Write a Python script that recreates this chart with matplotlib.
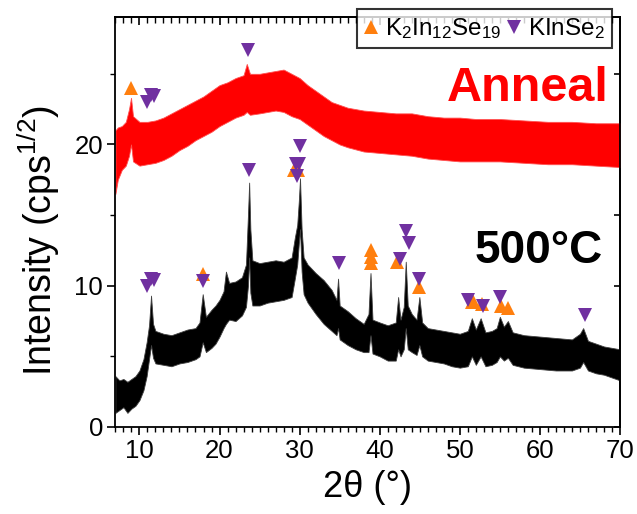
import matplotlib
matplotlib.use("Agg")
import matplotlib.pyplot as plt
from matplotlib.lines import Line2D
from matplotlib.ticker import MultipleLocator

plt.rcParams['font.family'] = ['Liberation Sans', 'DejaVu Sans']
plt.rcParams['mathtext.fontset'] = 'custom'
plt.rcParams['mathtext.rm'] = 'Liberation Sans'
plt.rcParams['mathtext.it'] = 'Liberation Sans:italic'
plt.rcParams['mathtext.default'] = 'regular'

# ---- 500 °C pattern: lower / upper envelope of the noisy trace ----
t500 = [7.0, 7.5, 8.0, 8.5, 9.0, 9.5, 10.0, 10.5, 10.9, 11.2, 11.45, 11.7, 12.0, 13.0,
        14.0, 15.0, 16.0, 17.0, 17.5, 17.9, 18.3, 19.0, 19.5, 20.0, 20.5, 20.8, 21.2,
        22.0, 22.8, 23.3, 23.55, 23.7, 23.85, 24.1, 25.0, 26.0, 27.0, 28.0, 29.0, 29.4,
        29.7, 29.9, 30.05, 30.25, 30.5, 31.0, 32.0, 33.0, 34.0, 34.6, 34.8, 35.0, 36.0,
        37.0, 38.0, 38.6, 38.85, 39.1, 40.0, 41.0, 42.0, 42.3, 42.6, 43.0, 43.25, 43.5,
        44.0, 44.6, 44.95, 45.3, 46.0, 47.0, 48.0, 49.0, 50.0, 51.0, 51.5, 52.0, 52.6,
        53.2, 54.0, 54.6, 55.0, 55.5, 56.0, 56.6, 58.0, 60.0, 62.0, 64.0, 65.0, 65.4,
        66.0, 67.0, 68.0, 69.0, 70.0]
lo500 = [1.0, 1.2, 1.4, 1.0, 1.3, 1.5, 1.9, 2.6, 3.6, 4.8, 5.8, 4.9, 4.5, 4.4,
         4.3, 4.5, 4.6, 4.8, 5.0, 6.0, 5.3, 5.6, 5.9, 6.4, 7.0, 7.3, 7.6,
         7.5, 7.9, 8.5, 10.0, 12.0, 9.5, 8.6, 8.6, 8.8, 8.9, 9.0, 9.2, 10.5,
         11.5, 13.0, 14.0, 11.0, 9.4, 8.8, 8.0, 7.3, 6.8, 6.5, 7.0, 6.2, 5.8,
         5.5, 5.3, 5.3, 6.5, 5.2, 5.0, 4.7, 4.7, 5.5, 5.0, 5.5, 7.0, 5.5,
         5.3, 5.1, 5.8, 5.0, 4.7, 4.6, 4.5, 4.3, 4.2, 4.3, 5.0, 4.4, 5.0,
         4.3, 4.4, 4.6, 5.0, 4.7, 4.9, 4.4, 4.2, 4.1, 4.0, 4.0, 4.2, 4.6,
         4.0, 3.8, 3.7, 3.5, 3.3]
hi500 = [3.6, 3.3, 3.4, 3.2, 3.4, 3.6, 4.0, 4.8, 6.0, 7.2, 9.3, 7.3, 6.8, 6.6,
         6.5, 6.7, 6.9, 7.0, 7.4, 9.4, 7.8, 8.3, 8.6, 9.0, 9.6, 11.0, 10.2,
         10.3, 10.6, 11.5, 15.0, 17.3, 14.0, 11.8, 11.6, 11.7, 11.8, 11.7, 12.0, 13.4,
         14.3, 16.0, 17.6, 14.0, 12.0, 11.5, 10.9, 10.4, 9.7, 9.0, 10.5, 8.6, 8.2,
         7.7, 7.3, 8.0, 10.9, 7.6, 7.4, 7.2, 7.4, 9.2, 7.6, 8.5, 11.7, 8.6,
         8.0, 7.6, 9.2, 7.4, 7.0, 6.9, 6.8, 6.7, 6.6, 6.8, 7.7, 6.9, 7.7,
         6.7, 6.8, 7.0, 7.8, 7.1, 7.5, 6.7, 6.5, 6.4, 6.3, 6.2, 6.6, 7.0,
         6.1, 5.9, 5.7, 5.6, 5.5]

# ---- annealed pattern ----
tann = [7.0, 7.3, 7.8, 8.3, 8.7, 8.95, 9.2, 10.0, 11.0, 12.0, 13.0, 14.0, 15.0, 16.0,
        17.0, 18.0, 19.0, 20.0, 21.0, 22.0, 23.0, 23.4, 23.8, 25.0, 26.0, 27.0, 28.0,
        29.0, 30.0, 31.0, 32.0, 33.0, 34.0, 35.0, 36.0, 38.0, 40.0, 42.0, 44.0, 46.0,
        48.0, 50.0, 52.0, 55.0, 58.0, 61.0, 64.0, 67.0, 70.0]
loann = [16.5, 17.5, 18.2, 18.5, 19.2, 20.0, 18.8, 18.5, 18.6, 18.7, 18.9, 19.2, 19.6, 19.9,
         20.3, 20.6, 20.9, 21.3, 21.6, 21.9, 22.1, 22.3, 22.1, 22.2, 22.3, 22.4, 22.3,
         22.0, 21.8, 21.4, 21.0, 20.6, 20.3, 20.0, 19.8, 19.5, 19.4, 19.3, 19.2, 19.0,
         18.9, 18.8, 18.8, 18.8, 18.7, 18.6, 18.6, 18.5, 18.4]
hiann = [21.0, 21.2, 21.3, 21.6, 22.5, 23.3, 22.0, 21.6, 21.6, 21.7, 21.9, 22.2, 22.5, 22.8,
         23.1, 23.4, 23.8, 24.2, 24.4, 24.7, 24.9, 25.7, 25.0, 25.0, 25.1, 25.2, 25.3,
         25.0, 24.7, 24.2, 23.8, 23.4, 23.0, 22.8, 22.6, 22.4, 22.3, 22.2, 22.2, 22.0,
         21.9, 21.9, 21.8, 21.8, 21.7, 21.6, 21.6, 21.5, 21.5]

# ---- reflection markers ----
k2in_x = [8.9, 17.95, 29.3, 29.8, 38.9, 38.9, 38.9, 42.1, 44.95, 51.5, 51.6, 52.8, 55.2, 56.0]
k2in_y = [24.0, 10.85, 18.2, 18.2, 12.5, 12.05, 11.6, 11.7, 9.9, 8.85, 8.9, 8.7, 8.6, 8.4]
kinse_x = [11.0, 11.5, 11.8, 23.6, 30.1, 29.5, 29.9, 29.7, 23.7, 10.9, 11.4, 11.8, 17.9,
           34.95, 42.5, 43.3, 43.6, 44.95, 51.05, 52.9, 55.0, 65.6]
kinse_y = [23.0, 23.5, 23.4, 26.7, 19.9, 18.6, 18.6, 17.8, 18.2, 10.0, 10.5, 10.4, 10.3,
           11.6, 11.9, 13.85, 13.0, 10.5, 9.0, 8.6, 9.2, 7.9]

orange = '#FF7F0E'
purple = '#7030A0'

fig = plt.figure(figsize=(6.37, 5.14), dpi=100)
ax = fig.add_axes([115.4 / 637, 1 - 427 / 514, (620 - 115.4) / 637, (427 - 17.3) / 514])

ax.fill_between(tann, loann, hiann, color='#FF0000', linewidth=0.6, edgecolor='#FF5050')
ax.fill_between(t500, lo500, hi500, color='black', linewidth=0.6, edgecolor='#404040')

ax.plot(k2in_x, k2in_y, linestyle='none', marker='^', ms=10, color=orange, mew=0)
ax.plot(kinse_x, kinse_y, linestyle='none', marker='v', ms=10, color=purple, mew=0)

ax.set_xlim(7, 70)
ax.set_ylim(0, 29)

ax.xaxis.set_major_locator(MultipleLocator(10))
ax.xaxis.set_minor_locator(MultipleLocator(1))
ax.yaxis.set_major_locator(MultipleLocator(10))
ax.yaxis.set_minor_locator(MultipleLocator(5))

ax.tick_params(axis='both', which='major', labelsize=18.5, width=1.2, length=6, direction='out',
               colors='black', pad=3)
ax.tick_params(axis='both', which='minor', width=1.0, length=3.5, direction='out')
for s in ax.spines.values():
    s.set_linewidth(1.3)

# inward ticks on the top and right frame
sec_x = ax.secondary_xaxis('top')
sec_x.xaxis.set_major_locator(MultipleLocator(10))
sec_x.xaxis.set_minor_locator(MultipleLocator(1))
sec_x.tick_params(which='major', direction='in', length=6, width=1.2, labeltop=False)
sec_x.tick_params(which='minor', direction='in', length=4, width=1.0)
sec_x.spines['top'].set_linewidth(1.3)
sec_y = ax.secondary_yaxis('right')
sec_y.yaxis.set_major_locator(MultipleLocator(5))
sec_y.yaxis.set_minor_locator(MultipleLocator(5))
sec_y.tick_params(which='major', direction='in', length=4, width=1.2, labelright=False)
sec_y.spines['right'].set_linewidth(1.3)

ax.set_xlabel('2θ (°)', fontsize=26, labelpad=5)
ax.set_ylabel(r'Intensity (cps$^{1/2}$)', fontsize=27)
ax.yaxis.set_label_coords(-0.105, 0.455)

ax.text(48.36, 23.07, 'Anneal', color='#FF0000', fontsize=35, fontweight='bold',
        ha='left', va='baseline')
ax.text(51.9, 11.6, '500°C', color='black', fontsize=33, fontweight='bold',
        ha='left', va='baseline')

handles = [Line2D([], [], linestyle='none', marker='^', ms=10, color=orange, mew=0),
           Line2D([], [], linestyle='none', marker='v', ms=10, color=purple, mew=0)]
leg = fig.legend(handles, [r'K$_2$In$_{12}$Se$_{19}$', r'KInSe$_2$'], ncol=2,
                 loc='upper right', bbox_to_anchor=(612 / 637, 1 - 9 / 514),
                 fontsize=17.5, frameon=True, fancybox=False, handlelength=0.6,
                 handletextpad=0.25, columnspacing=0.25, borderpad=0.3,
                 borderaxespad=0)
leg.get_frame().set_edgecolor('black')
leg.get_frame().set_linewidth(1.5)

fig.savefig('out.png', dpi=100)
